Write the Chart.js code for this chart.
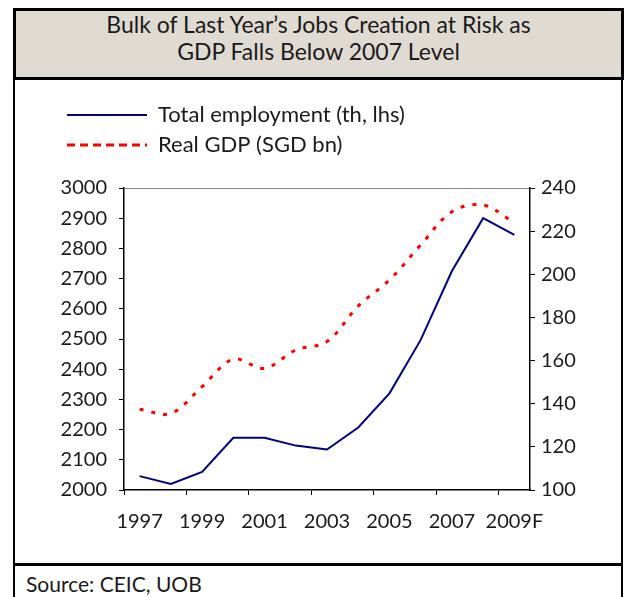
<!DOCTYPE html>
<html>
<head>
<meta charset="utf-8">
<script src="https://cdn.jsdelivr.net/npm/chart.js@4"></script>
<style>
  body { margin: 0; background: #fff; font-family: Lato, "Open Sans", sans-serif; color: #1a1a1a; }
  #titleBox {
    position: absolute; left: 13px; top: 8px; width: 605px; height: 66px;
    border: 3px solid #000; background: #e0dbd2;
    text-align: center; font-size: 23px; line-height: 26.5px;
  }
  #titleBox div { position: relative; top: 0px; }
  #chartBox {
    position: absolute; left: 13px; top: 80px; width: 606px; height: 483px;
    border-left: 2px solid #000; border-right: 2px solid #000;
  }
  #sourceBox {
    position: absolute; left: 13px; top: 563px; width: 595px; height: 60px;
    border-top: 3px solid #000; border-left: 2px solid #000; border-right: 2px solid #000;
    font-size: 21px; line-height: 24px; padding: 6px 0 0 11px;
  }
</style>
</head>
<body>
<div id="titleBox"><div>Bulk of Last Year’s Jobs Creation at Risk as<br>GDP Falls Below 2007 Level</div></div>
<div id="chartBox"><canvas id="jobsChart" width="606" height="483"></canvas></div>
<div id="sourceBox">Source: CEIC, UOB</div>
<script>
const years = ['1997', '1998', '1999', '2000', '2001', '2002', '2003', '2004', '2005', '2006', '2007', '2008', '2009F'];
const employment = [2046, 2020, 2060, 2173, 2173, 2147, 2134, 2207, 2320, 2497, 2725, 2900, 2845];
const realGdp = [137.4, 135.5, 147.9, 160.6, 156.4, 164.9, 168.8, 185.3, 197.4, 213.6, 229.0, 232.1, 223.9];

const tickFont = { family: 'Lato', size: 20 };
const legendFont = { family: 'Lato', size: 22 };
const textColor = '#1a1a1a';

// stretch the legend so the plot starts where it does in the picture
const legendHeight = {
    id: 'legendHeight',
    beforeInit(chart) {
        const fit = chart.legend.fit;
        chart.legend.fit = function () {
            fit.call(this);
            this.height = 92;
        };
    }
};

const ctx = document.getElementById('jobsChart').getContext('2d');
new Chart(ctx, {
    type: 'line',
    data: {
        labels: years,
        datasets: [{
            label: 'Total employment (th, lhs)',
            data: employment,
            yAxisID: 'yLeft',
            borderColor: '#000080',
            backgroundColor: '#000080',
            borderWidth: 2,
            pointRadius: 0,
            tension: 0
        }, {
            label: 'Real GDP (SGD bn)',
            data: realGdp,
            yAxisID: 'yRight',
            borderColor: '#ff0000',
            backgroundColor: '#ff0000',
            borderWidth: 3,
            borderDash: [4, 8],
            pointRadius: 0,
            tension: 0.35
        }]
    },
    options: {
        responsive: false,
        animation: false,
        layout: { padding: { left: 44, top: 16, right: 0, bottom: 0 } },
        plugins: {
            tooltip: { enabled: false },
            legend: {
                position: 'top',
                align: 'start',
                labels: {
                    usePointStyle: true,
                    pointStyle: 'line',
                    pointStyleWidth: 80,
                    padding: 8,
                    color: textColor,
                    font: legendFont,
                    generateLabels: function (chart) {
                        const items = Chart.defaults.plugins.legend.labels.generateLabels(chart);
                        items[1].lineDash = [8, 5];
                        return items;
                    }
                }
            }
        },
        scales: {
            x: {
                offset: true,
                afterFit(scale) { scale.height = 73; },
                grid: {
                    offset: true,
                    drawOnChartArea: false,
                    tickLength: 5,
                    tickColor: c => c.index % 2 === 0 ? '#000' : 'rgba(0,0,0,0)'
                },
                border: { color: '#000', width: 1.5 },
                ticks: {
                    autoSkip: false,
                    maxRotation: 0,
                    padding: 15,
                    color: textColor,
                    font: tickFont,
                    callback: function (value, index) {
                        return index % 2 === 0 ? this.getLabelForValue(value) : '';
                    }
                }
            },
            yLeft: {
                position: 'left',
                min: 2000,
                max: 3000,
                afterFit(scale) { scale.width = 65; },
                grid: {
                    drawOnChartArea: true,
                    color: c => c.tick && c.tick.value === 3000 ? '#888' : 'rgba(0,0,0,0)',
                    tickColor: '#000',
                    tickLength: 5
                },
                border: { color: '#000', width: 1.5 },
                ticks: {
                    stepSize: 100, padding: 12, color: textColor, font: tickFont,
                    callback: v => String(v)
                }
            },
            yRight: {
                position: 'right',
                min: 100,
                max: 240,
                afterFit(scale) { scale.width = 91; },
                grid: { drawOnChartArea: false, tickColor: '#000', tickLength: 5 },
                border: { color: '#000', width: 1.5 },
                ticks: { stepSize: 20, padding: 6, color: textColor, font: tickFont }
            }
        }
    },
    plugins: [legendHeight]
});
</script>
</body>
</html>
